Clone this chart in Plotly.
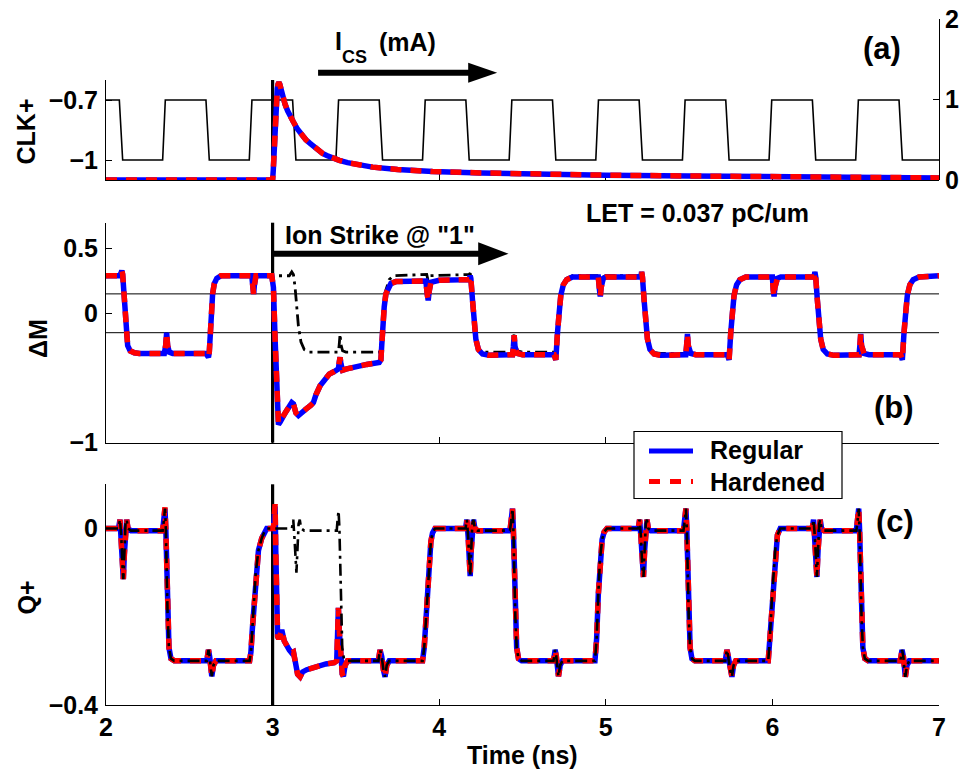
import plotly.graph_objects as go

# ---------------------------------------------------------------- data
# (time [ns], value) pairs

# panel (a): clock CLK+ (V) on the left axis
clk = [(2.00, -0.7), (2.08, -0.7), (2.10, -1.0), (2.34, -1.0), (2.356, -0.7),
       (2.60, -0.7), (2.62, -1.0), (2.86, -1.0), (2.876, -0.7), (3.12, -0.7),
       (3.14, -1.0), (3.38, -1.0), (3.396, -0.7), (3.64, -0.7), (3.66, -1.0),
       (3.90, -1.0), (3.916, -0.7), (4.16, -0.7), (4.18, -1.0), (4.42, -1.0),
       (4.436, -0.7), (4.68, -0.7), (4.70, -1.0), (4.94, -1.0), (4.956, -0.7),
       (5.20, -0.7), (5.22, -1.0), (5.46, -1.0), (5.476, -0.7), (5.72, -0.7),
       (5.74, -1.0), (5.98, -1.0), (5.996, -0.7), (6.24, -0.7), (6.26, -1.0),
       (6.50, -1.0), (6.516, -0.7), (6.76, -0.7), (6.78, -1.0), (7.00, -1.0)]

# panel (a): strike current I_CS (mA) on the right axis
ics_regular = [(2.00, 0.0), (3.00, 0.0), (3.004, 0.12), (3.008, 0.35), (3.013, 0.62),
               (3.018, 0.85), (3.023, 1.02), (3.028, 1.13), (3.033, 1.19), (3.038, 1.21),
               (3.043, 1.19), (3.05, 1.13), (3.06, 1.04), (3.075, 0.94), (3.09, 0.86),
               (3.105, 0.79), (3.125, 0.72), (3.15, 0.63), (3.175, 0.56), (3.20, 0.50),
               (3.225, 0.455), (3.25, 0.41), (3.275, 0.37), (3.30, 0.33), (3.325, 0.305),
               (3.35, 0.28), (3.40, 0.245), (3.45, 0.215), (3.50, 0.195), (3.60, 0.16),
               (3.75, 0.13), (3.96, 0.105), (4.25, 0.088), (4.60, 0.072), (5.00, 0.06),
               (5.50, 0.05), (6.00, 0.041), (6.50, 0.033), (7.00, 0.026)]
ics_hardened = [(2.00, 0.0), (3.00, 0.0), (3.004, 0.12), (3.008, 0.35), (3.013, 0.62),
                (3.018, 0.85), (3.023, 1.02), (3.028, 1.13), (3.033, 1.19), (3.038, 1.21),
                (3.043, 1.19), (3.05, 1.13), (3.06, 1.04), (3.075, 0.94), (3.09, 0.86),
                (3.105, 0.79), (3.125, 0.72), (3.15, 0.63), (3.175, 0.56), (3.20, 0.50),
                (3.225, 0.455), (3.25, 0.41), (3.275, 0.37), (3.30, 0.33), (3.325, 0.305),
                (3.35, 0.28), (3.40, 0.245), (3.45, 0.215), (3.50, 0.195), (3.60, 0.16),
                (3.75, 0.13), (3.96, 0.105), (4.25, 0.088), (4.60, 0.072), (5.00, 0.06),
                (5.50, 0.05), (6.00, 0.041), (6.50, 0.033), (7.00, 0.026)]

# panel (b): master latch differential voltage dM (V)
dm_regular = [(2.00, 0.29), (2.08, 0.29), (2.09, 0.31), (2.095, 0.33), (2.10, 0.30),
              (2.105, 0.20), (2.11, 0.05), (2.115, -0.08), (2.12, -0.17), (2.13, -0.25),
              (2.145, -0.29), (2.17, -0.305), (2.20, -0.31), (2.35, -0.31), (2.358, -0.25),
              (2.364, -0.15), (2.37, -0.25), (2.38, -0.30), (2.40, -0.31), (2.60, -0.31),
              (2.61, -0.33), (2.615, -0.34), (2.62, -0.30), (2.625, -0.15), (2.63, 0.00),
              (2.64, 0.15), (2.65, 0.23), (2.665, 0.27), (2.69, 0.29), (2.875, 0.29),
              (2.881, 0.21), (2.886, 0.15), (2.891, 0.22), (2.90, 0.29), (2.995, 0.29),
              (3.005, 0.20), (3.015, -0.20), (3.025, -0.60), (3.035, -0.86), (3.045, -0.84),
              (3.06, -0.80), (3.08, -0.76), (3.10, -0.72), (3.115, -0.69), (3.125, -0.70),
              (3.14, -0.77), (3.155, -0.79), (3.17, -0.77), (3.20, -0.74), (3.23, -0.71),
              (3.245, -0.69), (3.26, -0.63), (3.285, -0.56), (3.31, -0.52), (3.34, -0.47),
              (3.37, -0.45), (3.395, -0.43), (3.40, -0.38), (3.405, -0.34), (3.41, -0.39),
              (3.42, -0.44), (3.445, -0.43), (3.50, -0.41), (3.565, -0.395), (3.64, -0.38),
              (3.65, -0.36), (3.655, -0.25), (3.66, -0.10), (3.67, 0.05), (3.68, 0.15),
              (3.695, 0.20), (3.71, 0.23), (3.74, 0.245), (3.80, 0.25), (3.92, 0.25),
              (3.928, 0.15), (3.934, 0.10), (3.94, 0.17), (3.95, 0.24), (4.00, 0.255),
              (4.18, 0.26), (4.186, 0.29), (4.19, 0.27), (4.20, 0.10), (4.21, -0.08),
              (4.22, -0.20), (4.235, -0.28), (4.26, -0.315), (4.30, -0.325), (4.44, -0.32),
              (4.445, -0.26), (4.45, -0.17), (4.455, -0.26), (4.47, -0.31), (4.50, -0.32),
              (4.69, -0.32), (4.70, -0.36), (4.705, -0.30), (4.71, -0.15), (4.72, 0.00),
              (4.73, 0.14), (4.745, 0.22), (4.765, 0.26), (4.80, 0.28), (4.955, 0.28),
              (4.962, 0.18), (4.967, 0.13), (4.972, 0.20), (4.985, 0.27), (5.00, 0.28),
              (5.21, 0.28), (5.215, 0.32), (5.22, 0.28), (5.23, 0.10), (5.24, -0.08),
              (5.25, -0.20), (5.265, -0.28), (5.29, -0.315), (5.33, -0.325), (5.48, -0.32),
              (5.485, -0.25), (5.49, -0.16), (5.495, -0.25), (5.51, -0.31), (5.54, -0.32),
              (5.73, -0.32), (5.74, -0.36), (5.745, -0.30), (5.75, -0.15), (5.76, 0.00),
              (5.77, 0.14), (5.785, 0.22), (5.805, 0.26), (5.84, 0.28), (6.00, 0.28),
              (6.005, 0.18), (6.01, 0.13), (6.015, 0.20), (6.03, 0.27), (6.05, 0.28),
              (6.25, 0.28), (6.255, 0.32), (6.26, 0.28), (6.27, 0.10), (6.28, -0.08),
              (6.29, -0.20), (6.305, -0.28), (6.33, -0.315), (6.37, -0.325), (6.52, -0.32),
              (6.525, -0.25), (6.53, -0.16), (6.535, -0.25), (6.55, -0.31), (6.58, -0.32),
              (6.77, -0.32), (6.78, -0.36), (6.785, -0.30), (6.79, -0.15), (6.80, 0.00),
              (6.81, 0.14), (6.825, 0.22), (6.845, 0.26), (6.88, 0.28), (7.00, 0.29)]
dm_hardened = [(2.00, 0.29), (2.08, 0.29), (2.09, 0.31), (2.095, 0.33), (2.10, 0.30),
               (2.105, 0.20), (2.11, 0.05), (2.115, -0.08), (2.12, -0.17), (2.13, -0.25),
               (2.145, -0.29), (2.17, -0.305), (2.20, -0.31), (2.35, -0.31), (2.358, -0.25),
               (2.364, -0.15), (2.37, -0.25), (2.38, -0.30), (2.40, -0.31), (2.60, -0.31),
               (2.61, -0.33), (2.615, -0.34), (2.62, -0.30), (2.625, -0.15), (2.63, 0.00),
               (2.64, 0.15), (2.65, 0.23), (2.665, 0.27), (2.69, 0.29), (2.875, 0.29),
               (2.881, 0.21), (2.886, 0.15), (2.891, 0.22), (2.90, 0.29), (2.995, 0.29),
               (3.005, 0.20), (3.015, -0.20), (3.025, -0.60), (3.035, -0.85), (3.045, -0.83),
               (3.06, -0.80), (3.08, -0.76), (3.10, -0.72), (3.115, -0.69), (3.125, -0.70),
               (3.14, -0.77), (3.155, -0.79), (3.17, -0.77), (3.20, -0.74), (3.23, -0.71),
               (3.245, -0.69), (3.26, -0.63), (3.285, -0.56), (3.31, -0.52), (3.34, -0.47),
               (3.37, -0.45), (3.395, -0.43), (3.40, -0.38), (3.405, -0.34), (3.41, -0.39),
               (3.42, -0.44), (3.445, -0.43), (3.50, -0.41), (3.565, -0.395), (3.64, -0.38),
               (3.65, -0.36), (3.655, -0.25), (3.66, -0.10), (3.67, 0.05), (3.68, 0.15),
               (3.695, 0.20), (3.71, 0.23), (3.74, 0.245), (3.80, 0.25), (3.92, 0.25),
               (3.928, 0.15), (3.934, 0.10), (3.94, 0.17), (3.95, 0.24), (4.00, 0.255),
               (4.18, 0.26), (4.186, 0.29), (4.19, 0.27), (4.20, 0.10), (4.21, -0.08),
               (4.22, -0.20), (4.235, -0.28), (4.26, -0.315), (4.30, -0.325), (4.44, -0.32),
               (4.445, -0.26), (4.45, -0.17), (4.455, -0.26), (4.47, -0.31), (4.50, -0.32),
               (4.69, -0.32), (4.70, -0.36), (4.705, -0.30), (4.71, -0.15), (4.72, 0.00),
               (4.73, 0.14), (4.745, 0.22), (4.765, 0.26), (4.80, 0.28), (4.955, 0.28),
               (4.962, 0.18), (4.967, 0.13), (4.972, 0.20), (4.985, 0.27), (5.00, 0.28),
               (5.21, 0.28), (5.215, 0.32), (5.22, 0.28), (5.23, 0.10), (5.24, -0.08),
               (5.25, -0.20), (5.265, -0.28), (5.29, -0.315), (5.33, -0.325), (5.48, -0.32),
               (5.485, -0.25), (5.49, -0.16), (5.495, -0.25), (5.51, -0.31), (5.54, -0.32),
               (5.73, -0.32), (5.74, -0.36), (5.745, -0.30), (5.75, -0.15), (5.76, 0.00),
               (5.77, 0.14), (5.785, 0.22), (5.805, 0.26), (5.84, 0.28), (6.00, 0.28),
               (6.005, 0.18), (6.01, 0.13), (6.015, 0.20), (6.03, 0.27), (6.05, 0.28),
               (6.25, 0.28), (6.255, 0.32), (6.26, 0.28), (6.27, 0.10), (6.28, -0.08),
               (6.29, -0.20), (6.305, -0.28), (6.33, -0.315), (6.37, -0.325), (6.52, -0.32),
               (6.525, -0.25), (6.53, -0.16), (6.535, -0.25), (6.55, -0.31), (6.58, -0.32),
               (6.77, -0.32), (6.78, -0.36), (6.785, -0.30), (6.79, -0.15), (6.80, 0.00),
               (6.81, 0.14), (6.825, 0.22), (6.845, 0.26), (6.88, 0.28), (7.00, 0.29)]
# fault-free dM (no ion strike)
dm_nostrike = [(2.00, 0.29), (2.08, 0.29), (2.09, 0.31), (2.095, 0.33), (2.10, 0.30),
               (2.105, 0.20), (2.11, 0.05), (2.115, -0.08), (2.12, -0.17), (2.13, -0.25),
               (2.145, -0.29), (2.17, -0.305), (2.20, -0.31), (2.35, -0.31), (2.358, -0.25),
               (2.364, -0.15), (2.37, -0.25), (2.38, -0.30), (2.40, -0.31), (2.60, -0.31),
               (2.61, -0.33), (2.615, -0.34), (2.62, -0.30), (2.625, -0.15), (2.63, 0.00),
               (2.64, 0.15), (2.65, 0.23), (2.665, 0.27), (2.69, 0.29), (2.875, 0.29),
               (2.881, 0.21), (2.886, 0.15), (2.891, 0.22), (2.90, 0.29), (3.10, 0.29),
               (3.115, 0.32), (3.125, 0.30), (3.135, 0.20), (3.145, 0.05), (3.155, -0.10),
               (3.17, -0.22), (3.19, -0.28), (3.22, -0.30), (3.395, -0.30), (3.40, -0.24),
               (3.405, -0.16), (3.41, -0.24), (3.42, -0.29), (3.44, -0.30), (3.645, -0.30),
               (3.655, -0.20), (3.665, 0.00), (3.68, 0.18), (3.70, 0.26), (3.725, 0.29),
               (3.925, 0.30), (3.932, 0.26), (3.94, 0.29), (4.18, 0.30), (4.186, 0.31),
               (4.19, 0.28), (4.20, 0.10), (4.21, -0.08), (4.22, -0.20), (4.235, -0.28),
               (4.26, -0.30), (4.44, -0.30), (4.445, -0.24), (4.45, -0.15), (4.455, -0.24),
               (4.47, -0.29), (4.50, -0.30), (4.69, -0.30), (4.70, -0.34), (4.705, -0.29),
               (4.71, -0.14), (4.72, 0.01), (4.73, 0.15), (4.745, 0.23), (4.765, 0.27),
               (4.80, 0.29), (4.955, 0.29), (4.962, 0.19), (4.967, 0.14), (4.972, 0.21),
               (4.985, 0.28), (5.00, 0.29), (5.21, 0.29), (5.215, 0.32), (5.22, 0.28),
               (5.23, 0.10), (5.24, -0.08), (5.25, -0.20), (5.265, -0.28), (5.29, -0.305),
               (5.33, -0.31), (5.48, -0.31), (5.485, -0.25), (5.49, -0.16), (5.495, -0.25),
               (5.51, -0.30), (5.54, -0.315), (5.73, -0.32), (5.74, -0.36), (5.745, -0.30),
               (5.75, -0.15), (5.76, 0.00), (5.77, 0.14), (5.785, 0.22), (5.805, 0.26),
               (5.84, 0.28), (6.00, 0.28), (6.005, 0.18), (6.01, 0.13), (6.015, 0.20),
               (6.03, 0.27), (6.05, 0.28), (6.25, 0.28), (6.255, 0.32), (6.26, 0.28),
               (6.27, 0.10), (6.28, -0.08), (6.29, -0.20), (6.305, -0.28), (6.33, -0.315),
               (6.37, -0.325), (6.52, -0.32), (6.525, -0.25), (6.53, -0.16), (6.535, -0.25),
               (6.55, -0.31), (6.58, -0.32), (6.77, -0.32), (6.78, -0.36), (6.785, -0.30),
               (6.79, -0.15), (6.80, 0.00), (6.81, 0.14), (6.825, 0.22), (6.845, 0.26),
               (6.88, 0.28), (7.00, 0.29)]

# panel (c): slave output Q+ (V)
q_regular = [(2.00, 0.0), (2.075, 0.0), (2.084, 0.02), (2.092, -0.02), (2.098, -0.08),
             (2.104, -0.115), (2.11, -0.06), (2.117, 0.01), (2.124, 0.02), (2.132, 0.0),
             (2.15, -0.005), (2.34, -0.005), (2.348, 0.02), (2.354, 0.045), (2.359, 0.0),
             (2.364, -0.10), (2.37, -0.20), (2.378, -0.27), (2.39, -0.295), (2.41, -0.30),
             (2.605, -0.30), (2.615, -0.275), (2.622, -0.29), (2.63, -0.32), (2.635, -0.335),
             (2.645, -0.31), (2.66, -0.30), (2.862, -0.30), (2.87, -0.28), (2.878, -0.23),
             (2.887, -0.178), (2.899, -0.10), (2.915, -0.05), (2.935, -0.022), (2.95, -0.008),
             (2.965, 0.0), (3.005, 0.0), (3.011, 0.03), (3.015, 0.05), (3.019, -0.05),
             (3.024, -0.20), (3.03, -0.245), (3.037, -0.25), (3.045, -0.24), (3.055, -0.23),
             (3.07, -0.255), (3.085, -0.268), (3.10, -0.275), (3.115, -0.282), (3.125, -0.28),
             (3.135, -0.30), (3.15, -0.33), (3.165, -0.336), (3.18, -0.325), (3.205, -0.32),
             (3.26, -0.313), (3.32, -0.307), (3.37, -0.304), (3.385, -0.30), (3.39, -0.24),
             (3.395, -0.18), (3.40, -0.23), (3.41, -0.30), (3.418, -0.33), (3.425, -0.335),
             (3.435, -0.31), (3.45, -0.30), (3.635, -0.30), (3.645, -0.275), (3.655, -0.29),
             (3.665, -0.32), (3.675, -0.336), (3.685, -0.31), (3.70, -0.30), (3.90, -0.30),
             (3.91, -0.27), (3.92, -0.21), (3.93, -0.14), (3.94, -0.07), (3.95, -0.03),
             (3.96, -0.01), (3.975, 0.0), (4.158, 0.0), (4.166, 0.02), (4.174, -0.02),
             (4.18, -0.08), (4.186, -0.108), (4.192, -0.05), (4.199, 0.01), (4.206, 0.02),
             (4.214, 0.0), (4.23, -0.005), (4.425, -0.005), (4.433, 0.02), (4.44, 0.045),
             (4.445, 0.0), (4.45, -0.10), (4.457, -0.20), (4.465, -0.27), (4.476, -0.295),
             (4.495, -0.30), (4.686, -0.30), (4.696, -0.275), (4.703, -0.29), (4.71, -0.32),
             (4.716, -0.335), (4.726, -0.31), (4.74, -0.30), (4.935, -0.30), (4.945, -0.25),
             (4.955, -0.15), (4.965, -0.07), (4.978, -0.025), (4.99, -0.008), (5.007, 0.0),
             (5.195, 0.0), (5.203, 0.02), (5.211, -0.02), (5.218, -0.08), (5.226, -0.11),
             (5.233, -0.05), (5.24, 0.01), (5.247, 0.02), (5.255, 0.0), (5.27, -0.005),
             (5.466, -0.005), (5.474, 0.02), (5.481, 0.045), (5.486, 0.0), (5.491, -0.10),
             (5.498, -0.20), (5.506, -0.27), (5.517, -0.295), (5.535, -0.30), (5.717, -0.30),
             (5.727, -0.275), (5.735, -0.29), (5.745, -0.32), (5.757, -0.336), (5.767, -0.31),
             (5.78, -0.30), (5.975, -0.30), (5.985, -0.25), (5.997, -0.16), (6.007, -0.10),
             (6.018, -0.045), (6.03, -0.015), (6.047, 0.0), (6.239, 0.0), (6.247, 0.02),
             (6.255, -0.02), (6.261, -0.08), (6.267, -0.11), (6.274, -0.05), (6.281, 0.01),
             (6.287, 0.02), (6.295, 0.0), (6.31, -0.005), (6.504, -0.005), (6.512, 0.02),
             (6.518, 0.045), (6.523, 0.0), (6.528, -0.10), (6.535, -0.20), (6.543, -0.27),
             (6.555, -0.295), (6.575, -0.30), (6.768, -0.30), (6.778, -0.275), (6.786, -0.29),
             (6.792, -0.32), (6.798, -0.336), (6.808, -0.31), (6.822, -0.30), (7.00, -0.30)]
q_hardened = [(2.00, 0.0), (2.075, 0.0), (2.084, 0.02), (2.092, -0.02), (2.098, -0.08),
              (2.104, -0.115), (2.11, -0.06), (2.117, 0.01), (2.124, 0.02), (2.132, 0.0),
              (2.15, -0.005), (2.34, -0.005), (2.348, 0.02), (2.354, 0.048), (2.359, 0.0),
              (2.364, -0.10), (2.37, -0.20), (2.378, -0.27), (2.39, -0.295), (2.41, -0.30),
              (2.605, -0.30), (2.615, -0.275), (2.622, -0.29), (2.63, -0.32), (2.635, -0.335),
              (2.645, -0.31), (2.66, -0.30), (2.862, -0.30), (2.87, -0.28), (2.878, -0.23),
              (2.887, -0.178), (2.899, -0.10), (2.915, -0.05), (2.935, -0.022), (2.95, -0.008),
              (2.965, 0.0), (3.005, 0.0), (3.011, 0.03), (3.015, 0.055), (3.019, -0.05),
              (3.024, -0.20), (3.03, -0.245), (3.037, -0.25), (3.045, -0.24), (3.055, -0.23),
              (3.07, -0.255), (3.085, -0.268), (3.10, -0.275), (3.115, -0.282), (3.125, -0.28),
              (3.135, -0.30), (3.15, -0.33), (3.165, -0.336), (3.18, -0.325), (3.205, -0.32),
              (3.26, -0.313), (3.32, -0.307), (3.37, -0.304), (3.385, -0.30), (3.39, -0.24),
              (3.395, -0.18), (3.40, -0.23), (3.41, -0.30), (3.418, -0.33), (3.425, -0.335),
              (3.435, -0.31), (3.45, -0.30), (3.635, -0.30), (3.645, -0.275), (3.655, -0.29),
              (3.665, -0.32), (3.675, -0.336), (3.685, -0.31), (3.70, -0.30), (3.90, -0.30),
              (3.91, -0.27), (3.92, -0.21), (3.93, -0.14), (3.94, -0.07), (3.95, -0.03),
              (3.96, -0.01), (3.975, 0.0), (4.158, 0.0), (4.166, 0.02), (4.174, -0.02),
              (4.18, -0.08), (4.186, -0.108), (4.192, -0.05), (4.199, 0.01), (4.206, 0.02),
              (4.214, 0.0), (4.23, -0.005), (4.425, -0.005), (4.433, 0.02), (4.44, 0.045),
              (4.445, 0.0), (4.45, -0.10), (4.457, -0.20), (4.465, -0.27), (4.476, -0.295),
              (4.495, -0.30), (4.686, -0.30), (4.696, -0.275), (4.703, -0.29), (4.71, -0.32),
              (4.716, -0.335), (4.726, -0.31), (4.74, -0.30), (4.935, -0.30), (4.945, -0.25),
              (4.955, -0.15), (4.965, -0.07), (4.978, -0.025), (4.99, -0.008), (5.007, 0.0),
              (5.195, 0.0), (5.203, 0.02), (5.211, -0.02), (5.218, -0.08), (5.226, -0.11),
              (5.233, -0.05), (5.24, 0.01), (5.247, 0.02), (5.255, 0.0), (5.27, -0.005),
              (5.466, -0.005), (5.474, 0.02), (5.481, 0.045), (5.486, 0.0), (5.491, -0.10),
              (5.498, -0.20), (5.506, -0.27), (5.517, -0.295), (5.535, -0.30), (5.717, -0.30),
              (5.727, -0.275), (5.735, -0.29), (5.745, -0.32), (5.757, -0.336), (5.767, -0.31),
              (5.78, -0.30), (5.975, -0.30), (5.985, -0.25), (5.997, -0.16), (6.007, -0.10),
              (6.018, -0.045), (6.03, -0.015), (6.047, 0.0), (6.239, 0.0), (6.247, 0.02),
              (6.255, -0.02), (6.261, -0.08), (6.267, -0.11), (6.274, -0.05), (6.281, 0.01),
              (6.287, 0.02), (6.295, 0.0), (6.31, -0.005), (6.504, -0.005), (6.512, 0.02),
              (6.518, 0.045), (6.523, 0.0), (6.528, -0.10), (6.535, -0.20), (6.543, -0.27),
              (6.555, -0.295), (6.575, -0.30), (6.768, -0.30), (6.778, -0.275), (6.786, -0.29),
              (6.792, -0.32), (6.798, -0.336), (6.808, -0.31), (6.822, -0.30), (7.00, -0.30)]
# fault-free Q+ (no ion strike)
q_nostrike = [(2.00, 0.0), (2.075, 0.0), (2.084, 0.02), (2.092, -0.02), (2.098, -0.08),
              (2.104, -0.115), (2.11, -0.06), (2.117, 0.01), (2.124, 0.02), (2.132, 0.0),
              (2.15, -0.005), (2.34, -0.005), (2.348, 0.02), (2.354, 0.045), (2.359, 0.0),
              (2.364, -0.10), (2.37, -0.20), (2.378, -0.27), (2.39, -0.295), (2.41, -0.30),
              (2.605, -0.30), (2.615, -0.275), (2.622, -0.29), (2.63, -0.32), (2.635, -0.335),
              (2.645, -0.31), (2.66, -0.30), (2.862, -0.30), (2.87, -0.28), (2.878, -0.23),
              (2.887, -0.178), (2.899, -0.10), (2.915, -0.05), (2.935, -0.022), (2.95, -0.008),
              (2.965, 0.0), (3.116, 0.0), (3.124, 0.02), (3.131, -0.02), (3.137, -0.08),
              (3.143, -0.10), (3.149, -0.05), (3.156, 0.01), (3.163, 0.02), (3.171, 0.0),
              (3.19, -0.005), (3.385, -0.005), (3.39, 0.02), (3.396, 0.04), (3.401, 0.0),
              (3.406, -0.10), (3.411, -0.20), (3.418, -0.27), (3.428, -0.295), (3.445, -0.30),
              (3.635, -0.30), (3.645, -0.275), (3.655, -0.29), (3.665, -0.32), (3.675, -0.336),
              (3.685, -0.31), (3.70, -0.30), (3.90, -0.30), (3.91, -0.27), (3.92, -0.21),
              (3.93, -0.14), (3.94, -0.07), (3.95, -0.03), (3.96, -0.01), (3.975, 0.0),
              (4.158, 0.0), (4.166, 0.02), (4.174, -0.02), (4.18, -0.08), (4.186, -0.108),
              (4.192, -0.05), (4.199, 0.01), (4.206, 0.02), (4.214, 0.0), (4.23, -0.005),
              (4.425, -0.005), (4.433, 0.02), (4.44, 0.045), (4.445, 0.0), (4.45, -0.10),
              (4.457, -0.20), (4.465, -0.27), (4.476, -0.295), (4.495, -0.30), (4.686, -0.30),
              (4.696, -0.275), (4.703, -0.29), (4.71, -0.32), (4.716, -0.335), (4.726, -0.31),
              (4.74, -0.30), (4.935, -0.30), (4.945, -0.25), (4.955, -0.15), (4.965, -0.07),
              (4.978, -0.025), (4.99, -0.008), (5.007, 0.0), (5.195, 0.0), (5.203, 0.02),
              (5.211, -0.02), (5.218, -0.08), (5.226, -0.11), (5.233, -0.05), (5.24, 0.01),
              (5.247, 0.02), (5.255, 0.0), (5.27, -0.005), (5.466, -0.005), (5.474, 0.02),
              (5.481, 0.045), (5.486, 0.0), (5.491, -0.10), (5.498, -0.20), (5.506, -0.27),
              (5.517, -0.295), (5.535, -0.30), (5.717, -0.30), (5.727, -0.275), (5.735, -0.29),
              (5.745, -0.32), (5.757, -0.336), (5.767, -0.31), (5.78, -0.30), (5.975, -0.30),
              (5.985, -0.25), (5.997, -0.16), (6.007, -0.10), (6.018, -0.045), (6.03, -0.015),
              (6.047, 0.0), (6.239, 0.0), (6.247, 0.02), (6.255, -0.02), (6.261, -0.08),
              (6.267, -0.11), (6.274, -0.05), (6.281, 0.01), (6.287, 0.02), (6.295, 0.0),
              (6.31, -0.005), (6.504, -0.005), (6.512, 0.02), (6.518, 0.045), (6.523, 0.0),
              (6.528, -0.10), (6.535, -0.20), (6.543, -0.27), (6.555, -0.295), (6.575, -0.30),
              (6.768, -0.30), (6.778, -0.275), (6.786, -0.29), (6.792, -0.32), (6.798, -0.336),
              (6.808, -0.31), (6.822, -0.30), (7.00, -0.30)]

strike_time = 3.0
dm_thresholds = [0.15, -0.15]

time_ticks = [2, 3, 4, 5, 6, 7]
clk_ticks = [-1.0, -0.7]
clk_ticktext = ["\u22121", "\u22120.7"]
ics_ticks = [0, 1, 2]
dm_ticks = [-1.0, 0.0, 0.5]
dm_ticktext = ["\u22121", "0", "0.5"]
q_ticks = [-0.4, 0.0]
q_ticktext = ["\u22120.4", "0"]

# ---------------------------------------------------------------- layout helpers
W, H = 966, 773
FONT = "Liberation Sans, Arial, Helvetica, sans-serif"


def px(x):
    return x / W


def py(y):
    return 1 - y / H


def split(pts):
    return [p[0] for p in pts], [p[1] for p in pts]


BLUE = "rgb(0,0,255)"
RED = "rgb(255,0,0)"
RED_DASH = "11px,9px"
REF_DASH = "12px,5px,3px,5px"
THICK = 5.5

fig = go.Figure()


def add_line(pts, xa, ya, color, width, dash="solid"):
    x, y = split(pts)
    fig.add_trace(go.Scatter(x=x, y=y, mode="lines", xaxis=xa, yaxis=ya,
                             line=dict(color=color, width=width, dash=dash),
                             showlegend=False, hoverinfo="skip"))


# panel (a)
add_line(clk, "x", "y", "black", 1.6)
add_line(ics_regular, "x2", "y2", BLUE, THICK)
add_line(ics_hardened, "x2", "y2", RED, THICK, RED_DASH)
# panel (b)
add_line(dm_nostrike, "x3", "y3", "black", 2.8, REF_DASH)
add_line(dm_regular, "x3", "y3", BLUE, THICK)
add_line(dm_hardened, "x3", "y3", RED, THICK, RED_DASH)
# panel (c)
add_line(q_regular, "x4", "y4", BLUE, THICK)
add_line(q_hardened, "x4", "y4", RED, THICK, RED_DASH)
add_line(q_nostrike, "x4", "y4", "black", 2.6, REF_DASH)

tickfont = dict(family=FONT, size=25, color="black", weight="bold")
axis_common = dict(showline=True, linecolor="black", linewidth=1, ticks="inside",
                   ticklen=6, tickwidth=1, tickcolor="black", showgrid=False,
                   zeroline=False, tickfont=tickfont, fixedrange=True,
                   automargin=False)
xdom = [px(106), px(939)]

fig.update_layout(
    width=W, height=H, autosize=False,
    margin=dict(l=0, r=0, t=0, b=0, pad=0, autoexpand=False),
    paper_bgcolor="white", plot_bgcolor="rgba(0,0,0,0)",
    font=dict(family=FONT, size=25, color="black", weight="bold"),
    showlegend=False, hovermode=False,
    xaxis=dict(domain=xdom, range=[2, 7], anchor="y", tickvals=time_ticks,
               showticklabels=False, **axis_common),
    xaxis2=dict(domain=xdom, range=[2, 7], anchor="y2", visible=False),
    xaxis3=dict(domain=xdom, range=[2, 7], anchor="y3", tickvals=time_ticks,
                showticklabels=False, **axis_common),
    xaxis4=dict(domain=xdom, range=[2, 7], anchor="y4", tickvals=time_ticks,
                ticktext=[str(t) for t in time_ticks], ticklabelstandoff=0,
                **axis_common),
    yaxis=dict(domain=[py(180), py(80)], range=[-1.1, -0.6], anchor="x",
               tickvals=clk_ticks, ticktext=clk_ticktext, ticklabelstandoff=2,
               **axis_common),
    yaxis2=dict(domain=[py(180), py(19)], range=[0, 2], anchor="x2", side="right",
                tickvals=ics_ticks, ticklabelstandoff=0, **axis_common),
    yaxis3=dict(domain=[py(442.7), py(222.7)], range=[-1, 0.7], anchor="x3",
                tickvals=dm_ticks, ticktext=dm_ticktext, ticklabelstandoff=2,
                **axis_common),
    yaxis4=dict(domain=[py(705), py(484.3)], range=[-0.4, 0.1], anchor="x4",
                tickvals=q_ticks, ticktext=q_ticktext, ticklabelstandoff=2,
                **axis_common),
)

shapes = []
# ion strike instant in every panel
for xa, ya in (("x", "y"), ("x3", "y3"), ("x4", "y4")):
    shapes.append(dict(type="line", xref=xa, yref=f"{ya} domain", x0=strike_time,
                       x1=strike_time, y0=0, y1=1, layer="below",
                       line=dict(color="black", width=3.2)))
# +/- threshold levels of dM
for lvl in dm_thresholds:
    shapes.append(dict(type="line", xref="x3 domain", yref="y3", x0=0, x1=1,
                       y0=lvl, y1=lvl, layer="below",
                       line=dict(color="black", width=1)))
# arrow next to the I_CS label
shapes.append(dict(type="line", xref="x", yref="paper", x0=3.273, x1=4.19,
                   y0=py(72.7), y1=py(72.7), line=dict(color="black", width=6)))
shapes.append(dict(type="path", xref="x", yref="paper",
                   path=f"M 4.174,{py(62.7)} L 4.348,{py(72.7)} L 4.174,{py(82.7)} Z",
                   fillcolor="black", line=dict(width=0)))
# ion strike arrow
shapes.append(dict(type="line", xref="x", yref="paper", x0=strike_time, x1=4.25,
                   y0=py(253.7), y1=py(253.7), line=dict(color="black", width=6)))
shapes.append(dict(type="path", xref="x", yref="paper",
                   path=f"M 4.234,{py(242.2)} L 4.416,{py(253.7)} L 4.234,{py(265.2)} Z",
                   fillcolor="black", line=dict(width=0)))
# legend box with line samples
shapes.append(dict(type="rect", xref="paper", yref="paper", x0=px(634), x1=px(842),
                   y0=py(498.5), y1=py(431.5), fillcolor="white",
                   line=dict(color="black", width=1.2), layer="above"))
shapes.append(dict(type="line", xref="paper", yref="paper", x0=px(649), x1=px(693),
                   y0=py(451), y1=py(451), line=dict(color=BLUE, width=5)))
shapes.append(dict(type="line", xref="paper", yref="paper", x0=px(649), x1=px(693),
                   y0=py(481.5), y1=py(481.5),
                   line=dict(color=RED, width=5, dash="11px,10px")))
fig.update_layout(shapes=shapes)


def label(text, x, y, size=25, xanchor="center", angle=0):
    fig.add_annotation(text=text, x=px(x), y=py(y), xref="paper", yref="paper",
                       xanchor=xanchor, yanchor="middle", showarrow=False,
                       textangle=angle,
                       font=dict(family=FONT, size=size, color="black", weight="bold"))


label("I", 333, 41, xanchor="left")
label("CS", 340, 57, size=18, xanchor="left")
label("(mA)", 377, 42, xanchor="left")
label("(a)", 882, 49, size=31)
label("LET = 0.037 pC/um", 697.5, 213)
label("Ion Strike @ \"1\"", 282.7, 235, xanchor="left")
label("(b)", 893.5, 407.5, size=31)
label("(c)", 895, 521, size=31)
label("Regular", 708.3, 450, xanchor="left")
label("Hardened", 708.3, 481.5, xanchor="left")
label("CLK+", 25, 131.5, angle=-90)
label("\u0394M", 37.5, 338.5, angle=-90)
label("Q+", 26, 597.5, angle=-90)
label("Time (ns)", 522.7, 755)

fig.write_html("out.html")
